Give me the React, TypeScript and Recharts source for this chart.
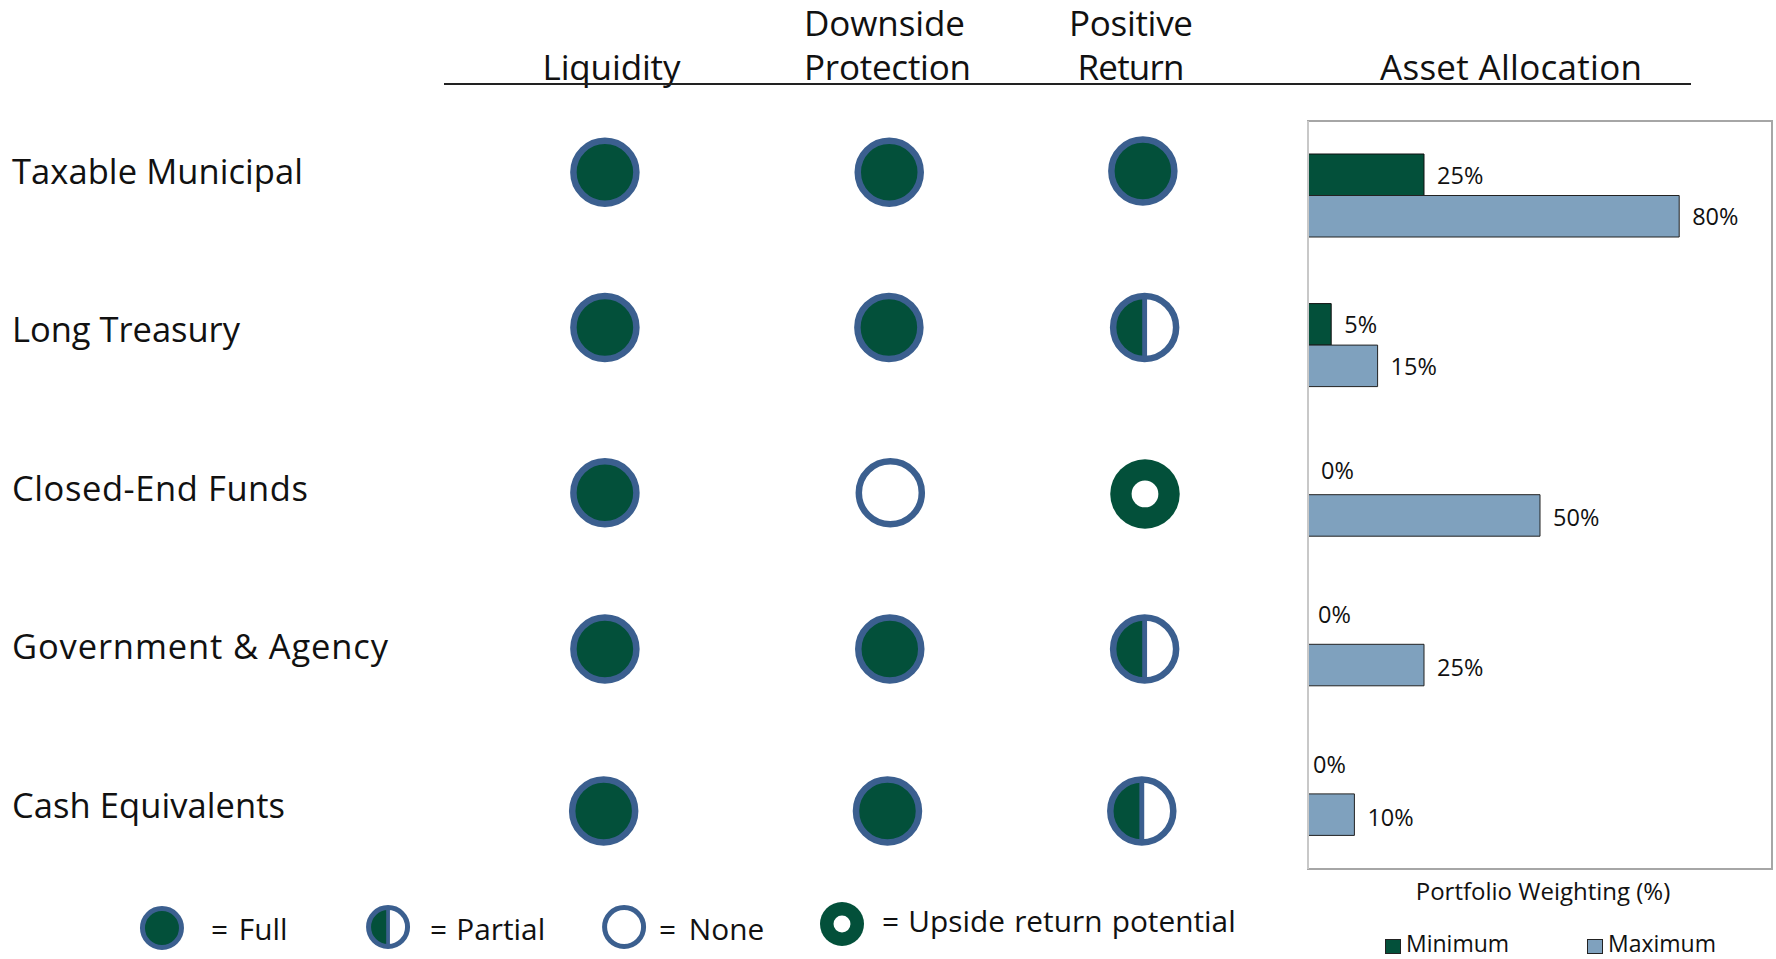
import React from 'react';
import { ScatterChart, Scatter, XAxis, YAxis, BarChart, Bar, Cell, LabelList, Label, Legend, ReferenceArea, ReferenceLine } from 'recharts';

const FONT = '"Open Sans", "Noto Sans", sans-serif';
const DARK = '#03503a';
const BLUE = '#3b5f8f';
const LIGHT = '#7fa1be';
const INK = '#111111';

// Bars
const sectors = ['Taxable Municipal', 'Long Treasury', 'Closed-End Funds', 'Government & Agency', 'Cash Equivalents'];
const minimumWeights = [25, 5, 0, 0, 0];
const maximumWeights = [80, 15, 50, 25, 10];
const barRows = sectors.map((name, i) => ({ name, Minimum: minimumWeights[i], Maximum: maximumWeights[i] }));

// Harvey balls, positions in percent of the picture (x across, y down)
const ballKinds = [
  ['full', 'full', 'full'],
  ['full', 'full', 'partial'],
  ['full', 'none', 'upside'],
  ['full', 'full', 'partial'],
  ['full', 'full', 'partial'],
];
const ballX = [
  [34.06, 50.07, 64.35],
  [34.06, 50.05, 64.45],
  [34.06, 50.13, 64.47],
  [34.06, 50.1, 64.45],
  [33.99, 49.97, 64.29],
];
const ballY = [
  [17.96, 17.96, 17.83],
  [34.14, 34.14, 34.14],
  [51.38, 51.38, 51.51],
  [67.67, 67.67, 67.67],
  [84.57, 84.57, 84.57],
];
const balls = ballKinds.flatMap((row, r) => row.map((kind, c) => ({ kind, x: ballX[r][c], y: ballY[r][c] })));

const keyKinds = ['full', 'partial', 'none', 'upside'];
const keyX = [9.12, 21.85, 35.14, 47.41];
const keyY = [96.77, 96.66, 96.66, 96.35];
const keyBalls = keyKinds.map((kind, i) => ({ kind, x: keyX[i], y: keyY[i] }));
const keyTexts = ['= Full', '= Partial', '= None', '= Upside return potential'];
const keyWordSpacing = [3, 1.5, 5, 1.5];

const headers = [
  { lines: ['Liquidity'], x: 611.5, anchor: 'middle', lengths: [138] },
  { lines: ['Downside', 'Protection'], x: 804, anchor: 'start', lengths: [161, 167] },
  { lines: ['Positive', 'Return'], x: 1131, anchor: 'middle', lengths: [124, 107] },
  { lines: ['Asset Allocation'], x: 1511, anchor: 'middle', lengths: [262] },
];
const sectorLengths = [291, 228, 296, 376, 273];

const makeBall = (r: number, sw: number) => (props: any) => {
  const { cx, cy, payload } = props;
  const kind = payload.kind;
  if (kind === 'upside') {
    const outer = r + sw / 2;
    const hole = outer * 0.385;
    return (
      <g>
        <circle cx={cx} cy={cy} r={outer} fill={DARK} />
        <circle cx={cx} cy={cy} r={hole} fill="#ffffff" />
      </g>
    );
  }
  if (kind === 'partial') {
    return (
      <g>
        <circle cx={cx} cy={cy} r={r} fill="#ffffff" />
        <path d={`M ${cx} ${cy - r} A ${r} ${r} 0 0 0 ${cx} ${cy + r} Z`} fill={DARK} />
        <line x1={cx} x2={cx} y1={cy - r} y2={cy + r} stroke={BLUE} strokeWidth={sw * 0.75} />
        <circle cx={cx} cy={cy} r={r} fill="none" stroke={BLUE} strokeWidth={sw} />
      </g>
    );
  }
  return <circle cx={cx} cy={cy} r={r} fill={kind === 'full' ? DARK : '#ffffff'} stroke={BLUE} strokeWidth={sw} />;
};

const zeroShiftX = [0, 0, 0, -3, -8];
const zeroShiftY = [0, 0, -6, -12, -11];
const rowShiftY = [-2, -2, 0, 0, 0];

const barLabel = (props: any) => {
  const { x, y, width, height, value, index } = props;
  const zero = value === 0;
  return (
    <text
      x={x + width + 13 + (zero ? zeroShiftX[index] : 0)}
      y={y + height / 2 + 2 + rowShiftY[index] + (zero ? zeroShiftY[index] : 0)}
      fontFamily={FONT}
      fontSize={23.5}
      fill={INK}
      dominantBaseline="central"
    >
      {value}%
    </text>
  );
};

const legendContent = (props: any) => (
  <div style={{ position: 'relative', width: 486, height: 26, fontFamily: FONT, fontSize: 23, color: INK }}>
    {(props.payload || []).map((p: any) => (
      <div key={p.value} style={{ position: 'absolute', left: p.value === 'Minimum' ? 95 : 297, top: -3, display: 'flex', alignItems: 'center', whiteSpace: 'nowrap', lineHeight: '26px' }}>
        <span style={{ display: 'inline-block', width: 14, height: 13, background: p.color, border: '1px solid #222', marginRight: 5, position: 'relative', top: 3 }} />
        {p.value}
      </div>
    ))}
  </div>
);

export default function App() {
  return (
    <div style={{ position: 'absolute', left: 0, top: 0, width: 1776, height: 959, overflow: 'hidden', background: '#fff' }}>
      <div style={{ position: 'absolute', left: 0, top: 0 }}>
        <ScatterChart width={1776} height={959} margin={{ top: 0, right: 0, bottom: 0, left: 0 }}>
          <XAxis type="number" dataKey="x" domain={[0, 100]} hide />
          <YAxis type="number" dataKey="y" domain={[0, 100]} reversed hide />
          <Scatter data={balls} shape={makeBall(31.5, 6.5)} isAnimationActive={false} />
          <Scatter data={keyBalls} shape={makeBall(19.5, 5)} isAnimationActive={false} />
          <g fontFamily={FONT} fill={INK}>
            {sectors.map((s, i) => (
              <text key={s} x={12} y={184 + i * 158.4} fontSize={34.5} textLength={sectorLengths[i]} lengthAdjust="spacing">{s}</text>
            ))}
            {headers.map((h) =>
              h.lines.map((t, j) => (
                <text key={t} x={h.x} y={80 - (h.lines.length - 1 - j) * 44} textAnchor={h.anchor as any} fontSize={35} textLength={h.lengths[j]} lengthAdjust="spacing">{t}</text>
              )),
            )}
            {keyTexts.map((t, i) => (
              <text key={t} x={[211, 430, 659, 882][i]} y={[940, 940, 940, 932][i]} fontSize={29.8} wordSpacing={keyWordSpacing[i]}>{t}</text>
            ))}
          </g>
          <line x1={444} x2={1691} y1={84} y2={84} stroke="#222" strokeWidth={2} />
        </ScatterChart>
      </div>
      <div style={{ position: 'absolute', left: 1290, top: 110 }}>
        <BarChart
          width={486}
          height={849}
          layout="vertical"
          data={barRows}
          barSize={41.5}
          barGap={0}
          margin={{ top: 11, right: 4, bottom: 40, left: 18 }}
        >
          <XAxis type="number" domain={[0, 100]} tick={false} axisLine={false} tickLine={false} height={50}>
            <Label value="Portfolio Weighting (%)" position="insideTop" offset={14} dx={3} fontFamily={FONT} fontSize={24} fill={INK} />
          </XAxis>
          <YAxis type="category" dataKey="name" hide />
          <ReferenceArea x1={0} x2={100} fill="#fff" fillOpacity={0} stroke="#a6a6a6" strokeWidth={2} ifOverflow="extendDomain" />
          <Bar dataKey="Minimum" fill={DARK} stroke="#111" strokeWidth={1} minPointSize={0.01} isAnimationActive={false}>
            {minimumWeights.map((v, i) => (
              <Cell key={i} fill={v === 0 ? 'none' : DARK} stroke={v === 0 ? 'none' : '#111'} />
            ))}
            <LabelList dataKey="Minimum" content={barLabel} />
          </Bar>
          <Bar dataKey="Maximum" fill={LIGHT} stroke="#222" strokeWidth={1} isAnimationActive={false}>
            <LabelList dataKey="Maximum" content={barLabel} />
          </Bar>
          <ReferenceLine x={0} stroke="#c8c8c8" strokeWidth={2} />
          <Legend verticalAlign="middle" itemSorter={null} content={legendContent} wrapperStyle={{ position: 'absolute', left: 0, top: 823, width: 486 }} />
        </BarChart>
      </div>
    </div>
  );
}
